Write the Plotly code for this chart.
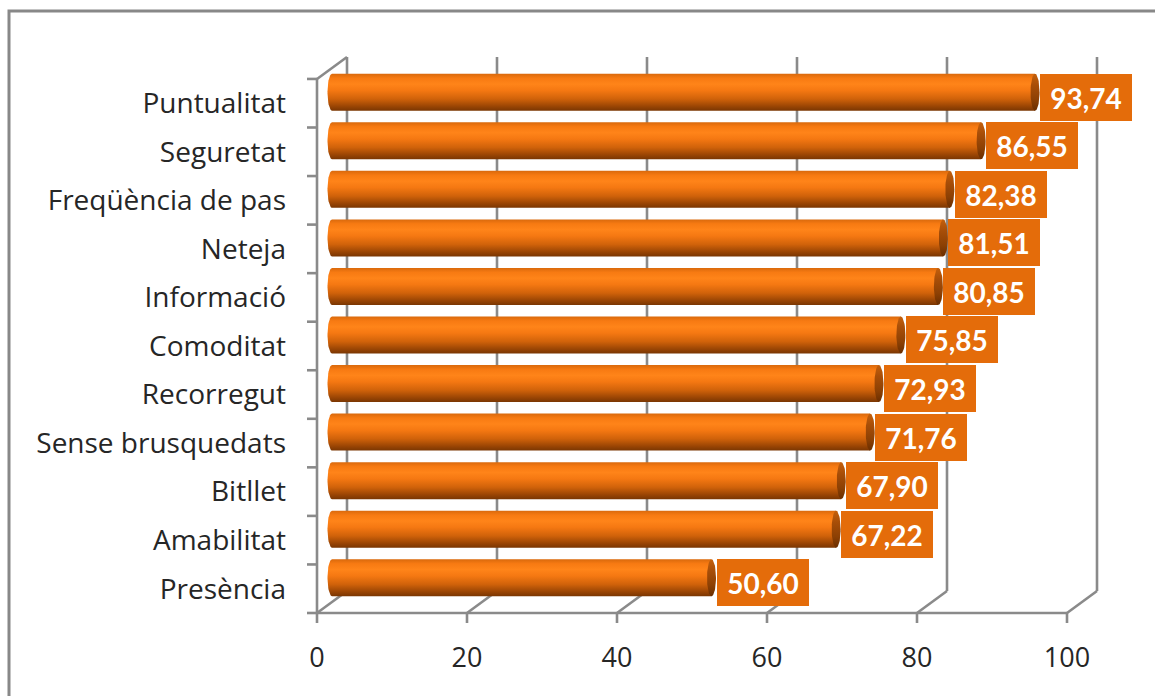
import numpy as np
import plotly.graph_objects as go

# ---------------- data ----------------
categories = ["Puntualitat", "Seguretat", "Freqüència de pas", "Neteja", "Informació",
              "Comoditat", "Recorregut", "Sense brusquedats", "Bitllet", "Amabilitat", "Presència"]
values = [93.74, 86.55, 82.38, 81.51, 80.85, 75.85, 72.93, 71.76, 67.90, 67.22, 50.60]
value_labels = ["93,74", "86,55", "82,38", "81,51", "80,85", "75,85", "72,93", "71,76", "67,90", "67,22", "50,60"]
x_ticks = [0, 20, 40, 60, 80, 100]
x_tick_labels = ["0", "20", "40", "60", "80", "100"]

# ---------------- geometry / style ----------------
W, H = 1155, 696
PLOT_L, PLOT_R, PLOT_T, PLOT_B = 300, 1145, 30, 626
X0_PX = 317            # pixel of x = 0 on the front plane
PX_X = 7.5             # pixels per x unit
FRONT_BOTTOM_PX = 613  # pixel of the front floor edge
PX_Y = 48.55           # pixels per category

x_range = [(PLOT_L - X0_PX) / PX_X, (PLOT_R - X0_PX) / PX_X]
y_range = [(FRONT_BOTTOM_PX - PLOT_B) / PX_Y - 0.5, (FRONT_BOTTOM_PX - PLOT_T) / PX_Y - 0.5]

DEPTH_X = 30 / PX_X     # depth offset of the back wall (x units)
DEPTH_Y = 22 / PX_Y     # depth offset of the back wall (y units)
BAR_DX = DEPTH_X / 2
BAR_DY = DEPTH_Y / 2
BAR_H = 18.5 / PX_Y     # half bar thickness
RX_LEFT = 4.5 / PX_X
RX_CAP = 4.5 / PX_X

GRID = "#8a8a8a"
GW = 2.6
TEXT = "#262626"
FONT = "Lato"
CAT_FONT = "Open Sans"
LABEL_BG = "#E46C0A"

body_scale = [[0.0, "#7a3602"], [0.12, "#9a4504"], [0.32, "#d0620a"], [0.55, "#f57812"],
              [0.72, "#ff8419"], [0.88, "#f77a12"], [1.0, "#d9690c"]]
cap_scale = [[0.0, "#6a2e00"], [0.3, "#8c4004"], [0.7, "#a84e08"], [1.0, "#c4600c"]]

n = len(categories)
idx = [n - 1 - j for j in range(n)]  # top category highest

fig = go.Figure()

t_left = np.linspace(np.pi / 2, 3 * np.pi / 2, 30)
t_full = np.linspace(0, 2 * np.pi, 60)

for j in range(n):
    yc = idx[j] + BAR_DY
    xs = BAR_DX
    xe = values[j] + BAR_DX
    # body
    bx = list(xs + RX_LEFT * np.cos(t_left)) + [xe, xe, xs]
    by = list(yc + BAR_H * np.sin(t_left)) + [yc - BAR_H, yc + BAR_H, yc + BAR_H]
    fig.add_trace(go.Scatter(x=bx, y=by, mode="lines", fill="toself", line=dict(width=0),
                             fillgradient=dict(type="vertical", colorscale=body_scale),
                             hoverinfo="skip", showlegend=False))
    # end cap
    cx = list(xe + RX_CAP * np.cos(t_full))
    cy = list(yc + BAR_H * np.sin(t_full))
    fig.add_trace(go.Scatter(x=cx, y=cy, mode="lines", fill="toself", line=dict(width=0),
                             fillgradient=dict(type="vertical", colorscale=cap_scale),
                             hoverinfo="skip", showlegend=False))
    # value label
    fig.add_annotation(x=xe + RX_CAP + 0.07, y=yc - 5 / PX_Y, xref="x", yref="y",
                       text=value_labels[j], showarrow=False, xanchor="left", yanchor="middle",
                       bgcolor=LABEL_BG, width=90, height=45, borderpad=1, borderwidth=0,
                       font=dict(family=FONT, size=28, color="white", weight="bold"))

shapes = []
y_front = -0.5
y_top = n - 0.5
# front x axis line and ticks, floor diagonals, back gridlines
shapes.append(dict(type="line", xref="x", yref="y", x0=0, x1=x_ticks[-1], y0=y_front, y1=y_front,
                   line=dict(color=GRID, width=GW), layer="below"))
for v in x_ticks:
    shapes.append(dict(type="line", xref="x", yref="y", x0=v, x1=v, y0=y_front, y1=y_front - 10 / PX_Y,
                       line=dict(color=GRID, width=GW), layer="below"))
    shapes.append(dict(type="line", xref="x", yref="y", x0=v, x1=v + DEPTH_X, y0=y_front, y1=y_front + DEPTH_Y,
                       line=dict(color=GRID, width=GW), layer="below"))
    shapes.append(dict(type="line", xref="x", yref="y", x0=v + DEPTH_X, x1=v + DEPTH_X,
                       y0=y_front + DEPTH_Y, y1=y_top + DEPTH_Y,
                       line=dict(color=GRID, width=GW), layer="below"))
# left wall front edge, category ticks and top diagonal
shapes.append(dict(type="line", xref="x", yref="y", x0=0, x1=0, y0=y_front, y1=y_top,
                   line=dict(color=GRID, width=GW), layer="below"))
for k in range(n + 1):
    yk = k - 0.5
    shapes.append(dict(type="line", xref="x", yref="y", x0=0, x1=-10 / PX_X, y0=yk, y1=yk,
                       line=dict(color=GRID, width=GW), layer="below"))
shapes.append(dict(type="line", xref="x", yref="y", x0=0, x1=DEPTH_X, y0=y_top, y1=y_top + DEPTH_Y,
                   line=dict(color=GRID, width=GW), layer="below"))

# outer chart frame (paper coords derived from pixels)
pw, ph = PLOT_R - PLOT_L, PLOT_B - PLOT_T
shapes.append(dict(type="rect", xref="paper", yref="paper",
                   x0=(9 - PLOT_L) / pw, x1=(1165 - PLOT_L) / pw,
                   y0=(PLOT_B - 710) / ph, y1=(PLOT_B - 11) / ph,
                   line=dict(color="#888888", width=3), fillcolor="rgba(0,0,0,0)", layer="below"))

fig.update_layout(
    width=W, height=H, template="none",
    margin=dict(l=PLOT_L, r=W - PLOT_R, t=PLOT_T, b=H - PLOT_B, pad=0),
    paper_bgcolor="white", plot_bgcolor="white", showlegend=False,
    shapes=shapes,
    xaxis=dict(range=x_range, tickvals=x_ticks, ticktext=x_tick_labels, showgrid=False, zeroline=False,
               showline=False, ticks="", ticklabelstandoff=13, fixedrange=True,
               tickfont=dict(family=CAT_FONT, size=27, color=TEXT)),
    yaxis=dict(range=y_range, tickvals=idx, ticktext=categories, showgrid=False, zeroline=False,
               showline=False, ticks="", ticklabelstandoff=13, fixedrange=True,
               tickfont=dict(family=CAT_FONT, size=28, color=TEXT)),
)

fig.write_html("out.html")
